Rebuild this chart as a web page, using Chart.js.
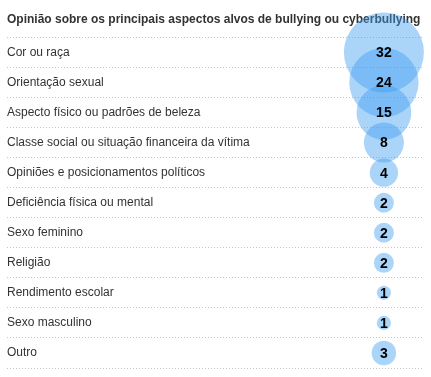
<!DOCTYPE html>
<html>
<head>
<meta charset="utf-8">
<script src="https://cdn.jsdelivr.net/npm/chart.js@4/dist/chart.umd.min.js"></script>
<style>
  html, body { margin: 0; padding: 0; background: #fff; }
  #wrap { width: 431px; height: 377px; }
</style>
</head>
<body>
<div id="wrap"><canvas id="chart_bullying"></canvas></div>
<script>
const titleText = "Opinião sobre os principais aspectos alvos de bullying ou cyberbullying";
const categories = [
  "Cor ou raça",
  "Orientação sexual",
  "Aspecto físico ou padrões de beleza",
  "Classe social ou situação financeira da vítima",
  "Opiniões e posicionamentos políticos",
  "Deficiência física ou mental",
  "Sexo feminino",
  "Religião",
  "Rendimento escolar",
  "Sexo masculino",
  "Outro"
];
const values = [32, 24, 15, 8, 4, 2, 2, 2, 1, 1, 3];

const maxRadius = 40;
const maxValue = Math.max(...values);

// numbers in the middle of each bubble
const bubbleLabels = {
  id: "bubbleLabels",
  afterDatasetsDraw(chart) {
    const ctx = chart.ctx;
    const meta = chart.getDatasetMeta(0);
    ctx.save();
    ctx.font = "bold 14px Arial, 'Liberation Sans', sans-serif";
    ctx.fillStyle = "#000";
    ctx.textAlign = "center";
    ctx.textBaseline = "middle";
    meta.data.forEach((el, i) => {
      ctx.fillText(String(values[i]), el.x, el.y + 1);
    });
    ctx.restore();
  }
};

const ctx = document.getElementById("chart_bullying").getContext("2d");
const myChart = new Chart(ctx, {
  type: "bubble",
  data: {
    datasets: [
      {
        data: categories.map((c, i) => ({
          x: 0,
          y: c,
          r: maxRadius * Math.sqrt(values[i] / maxValue)
        })),
        backgroundColor: "rgba(60, 155, 240, 0.43)",
        borderWidth: 0,
        hoverBorderWidth: 0,
        clip: false
      }
    ]
  },
  options: {
    responsive: true,
    maintainAspectRatio: false,
    animation: false,
    events: [],
    layout: {
      autoPadding: false,
      padding: { left: 7, right: 7, top: 0, bottom: 9 }
    },
    plugins: {
      legend: { display: false },
      tooltip: { enabled: false },
      title: {
        display: true,
        text: titleText,
        align: "start",
        color: "#333",
        font: { family: "Arial, 'Liberation Sans', sans-serif", size: 12, weight: "bold" },
        padding: { top: 12, bottom: 11 }
      }
    },
    scales: {
      x: {
        type: "linear",
        display: false,
        min: -9.4,
        max: 1
      },
      y: {
        type: "category",
        labels: categories,
        offset: true,
        border: { display: false, dash: [1, 2] },
        grid: {
          offset: true,
          drawTicks: false,
          color: "#c4c4c4",
          lineWidth: 1
        },
        ticks: {
          mirror: true,
          padding: 0,
          color: "#333",
          font: { family: "Arial, 'Liberation Sans', sans-serif", size: 12 }
        }
      }
    }
  },
  plugins: [bubbleLabels]
});
</script>
</body>
</html>
